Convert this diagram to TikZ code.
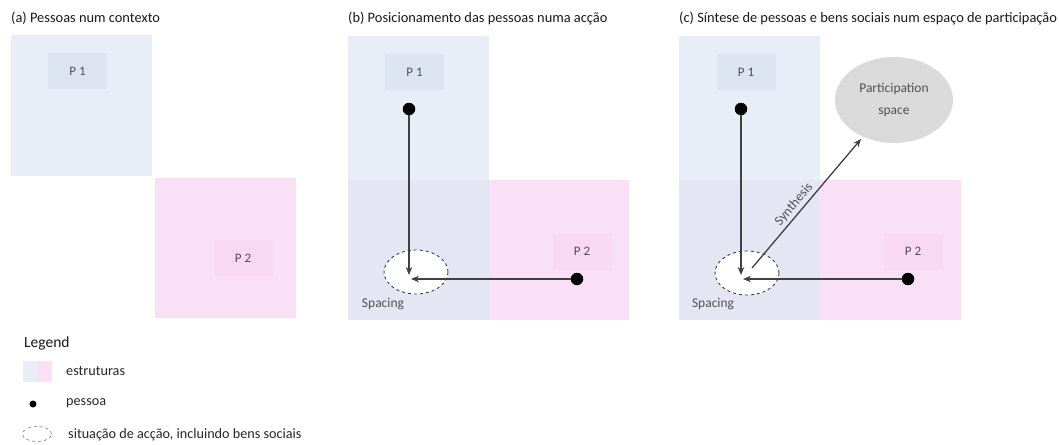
\documentclass[tikz,border=0pt]{standalone}
\usepackage{fontspec}
\setmainfont{Carlito}
\usetikzlibrary{arrows.meta,shapes.geometric}

% structure colours
\definecolor{strBlue}{HTML}{E7EEF8}
\definecolor{strPink}{HTML}{F9E0F6}
\definecolor{strMix}{HTML}{E5E6F4}
\definecolor{boxBlue}{HTML}{DCE4F2}
\definecolor{boxPink}{HTML}{F8D8F3}
\definecolor{lineGray}{HTML}{404040}
\definecolor{textGray}{HTML}{505050}
\definecolor{spaceGray}{HTML}{DADADA}

\tikzset{
  title/.style={anchor=west, inner sep=0pt, text=black!90, font=\fontsize{14.4}{16}\selectfont},
  pbox/.style={minimum width=59pt, minimum height=36pt, inner sep=0pt, text=textGray,
               font=\fontsize{13}{15}\selectfont},
  person/.style={circle, fill=black, minimum size=12.5pt, inner sep=0pt},
  conn/.style={draw=lineGray, line width=1.3pt, -{Stealth[length=8pt,width=6.5pt]}},
  spacing/.style={ellipse, draw=black!75, dashed, line width=0.9pt, fill=white,
                  minimum width=64pt, minimum height=44pt, inner sep=0pt},
  lbl/.style={inner sep=0pt, text=textGray, font=\fontsize{13.5}{15}\selectfont},
  legtext/.style={anchor=west, inner sep=0pt, text=black!85, font=\fontsize{14.2}{16}\selectfont},
}

\begin{document}
\begin{tikzpicture}[x=1pt, y=-1pt]
\useasboundingbox (0,0) rectangle (1059,444);

% ---------------- (a) ----------------
\node[title] (a-title) at (11,18) {(a) Pessoas num contexto};
\fill[strBlue] (11,35) rectangle (152,176);
\fill[strPink] (155,178) rectangle (296,318);
\node[pbox, fill=boxBlue] (a-p1) at (77.5,71) {P 1};
\node[pbox, fill=boxPink] (a-p2) at (243,258) {P 2};

% ---------------- (b) ----------------
\node[title] (b-title) at (348,18) {(b) Posicionamento das pessoas numa acção};
\fill[strBlue] (348,36) rectangle (489,180);
\fill[strMix]  (348,180) rectangle (489,320);
\fill[strPink] (489,180) rectangle (629,320);
\node[pbox, fill=boxBlue] (b-p1) at (414.5,72) {P 1};
\node[pbox, fill=boxPink] (b-p2) at (582,251.5) {P 2};
\node[spacing] (b-sp) at (416,272) {};
\node[lbl] (b-splbl) at (383,304) {Spacing};
\node[person] (b-d1) at (409,109) {};
\node[person] (b-d2) at (577,279) {};
\coordinate (b-t1) at (409,275);
\coordinate (b-t2) at (411,279);
\draw[conn] (b-d1) -- (b-t1);
\draw[conn] (b-d2) -- (b-t2);

% ---------------- (c) ----------------
\node[title] (c-title) at (679,18) {(c) Síntese de pessoas e bens sociais num espaço de participação};
\fill[strBlue] (679,36) rectangle (820,180);
\fill[strMix]  (679,180) rectangle (820,320);
\fill[strPink] (820,180) rectangle (961,320);
\node[pbox, fill=boxBlue] (c-p1) at (746,72) {P 1};
\node[pbox, fill=boxPink] (c-p2) at (913,251.5) {P 2};
\node[spacing] (c-sp) at (747,273) {};
\node[lbl] (c-splbl) at (713,304) {Spacing};
\node[ellipse, fill=spaceGray, minimum width=118pt, minimum height=86pt, inner sep=0pt,
      align=center, text=textGray, font=\fontsize{13.5}{22}\selectfont] (c-ps) at (894,100)
      {Participation\\space};
\node[person] (c-d1) at (741,109) {};
\node[person] (c-d2) at (908,279) {};
\coordinate (c-t1) at (741,275);
\coordinate (c-t2) at (743,279);
\coordinate (c-s0) at (752,268);
\draw[conn] (c-d1) -- (c-t1);
\draw[conn] (c-d2) -- (c-t2);
\draw[conn, shorten >=3pt] (c-s0) -- (c-ps)
  node[lbl, pos=0.44, above=2.5pt, sloped] (c-synth) {Synthesis};

% ---------------- legend ----------------
\node[legtext, text=black!90, font=\fontsize{15.5}{17}\selectfont] (lg-title) at (24,343) {Legend};
\fill[strBlue] (23,361) rectangle (37,382);
\fill[strPink] (37,361) rectangle (52,382);
\node[legtext] (lg-str) at (66,371) {estruturas};
\node[circle, fill=black, minimum size=7pt, inner sep=0pt] (lg-dot) at (33,404) {};
\node[legtext] (lg-pes) at (66,403) {pessoa};
\node[ellipse, draw=black!45, dashed, line width=0.7pt, minimum width=29pt, minimum height=15pt,
      inner sep=0pt] (lg-sp) at (37,434) {};
\node[legtext] (lg-sit) at (68,435) {situação de acção, incluindo bens sociais};
\end{tikzpicture}
\end{document}
